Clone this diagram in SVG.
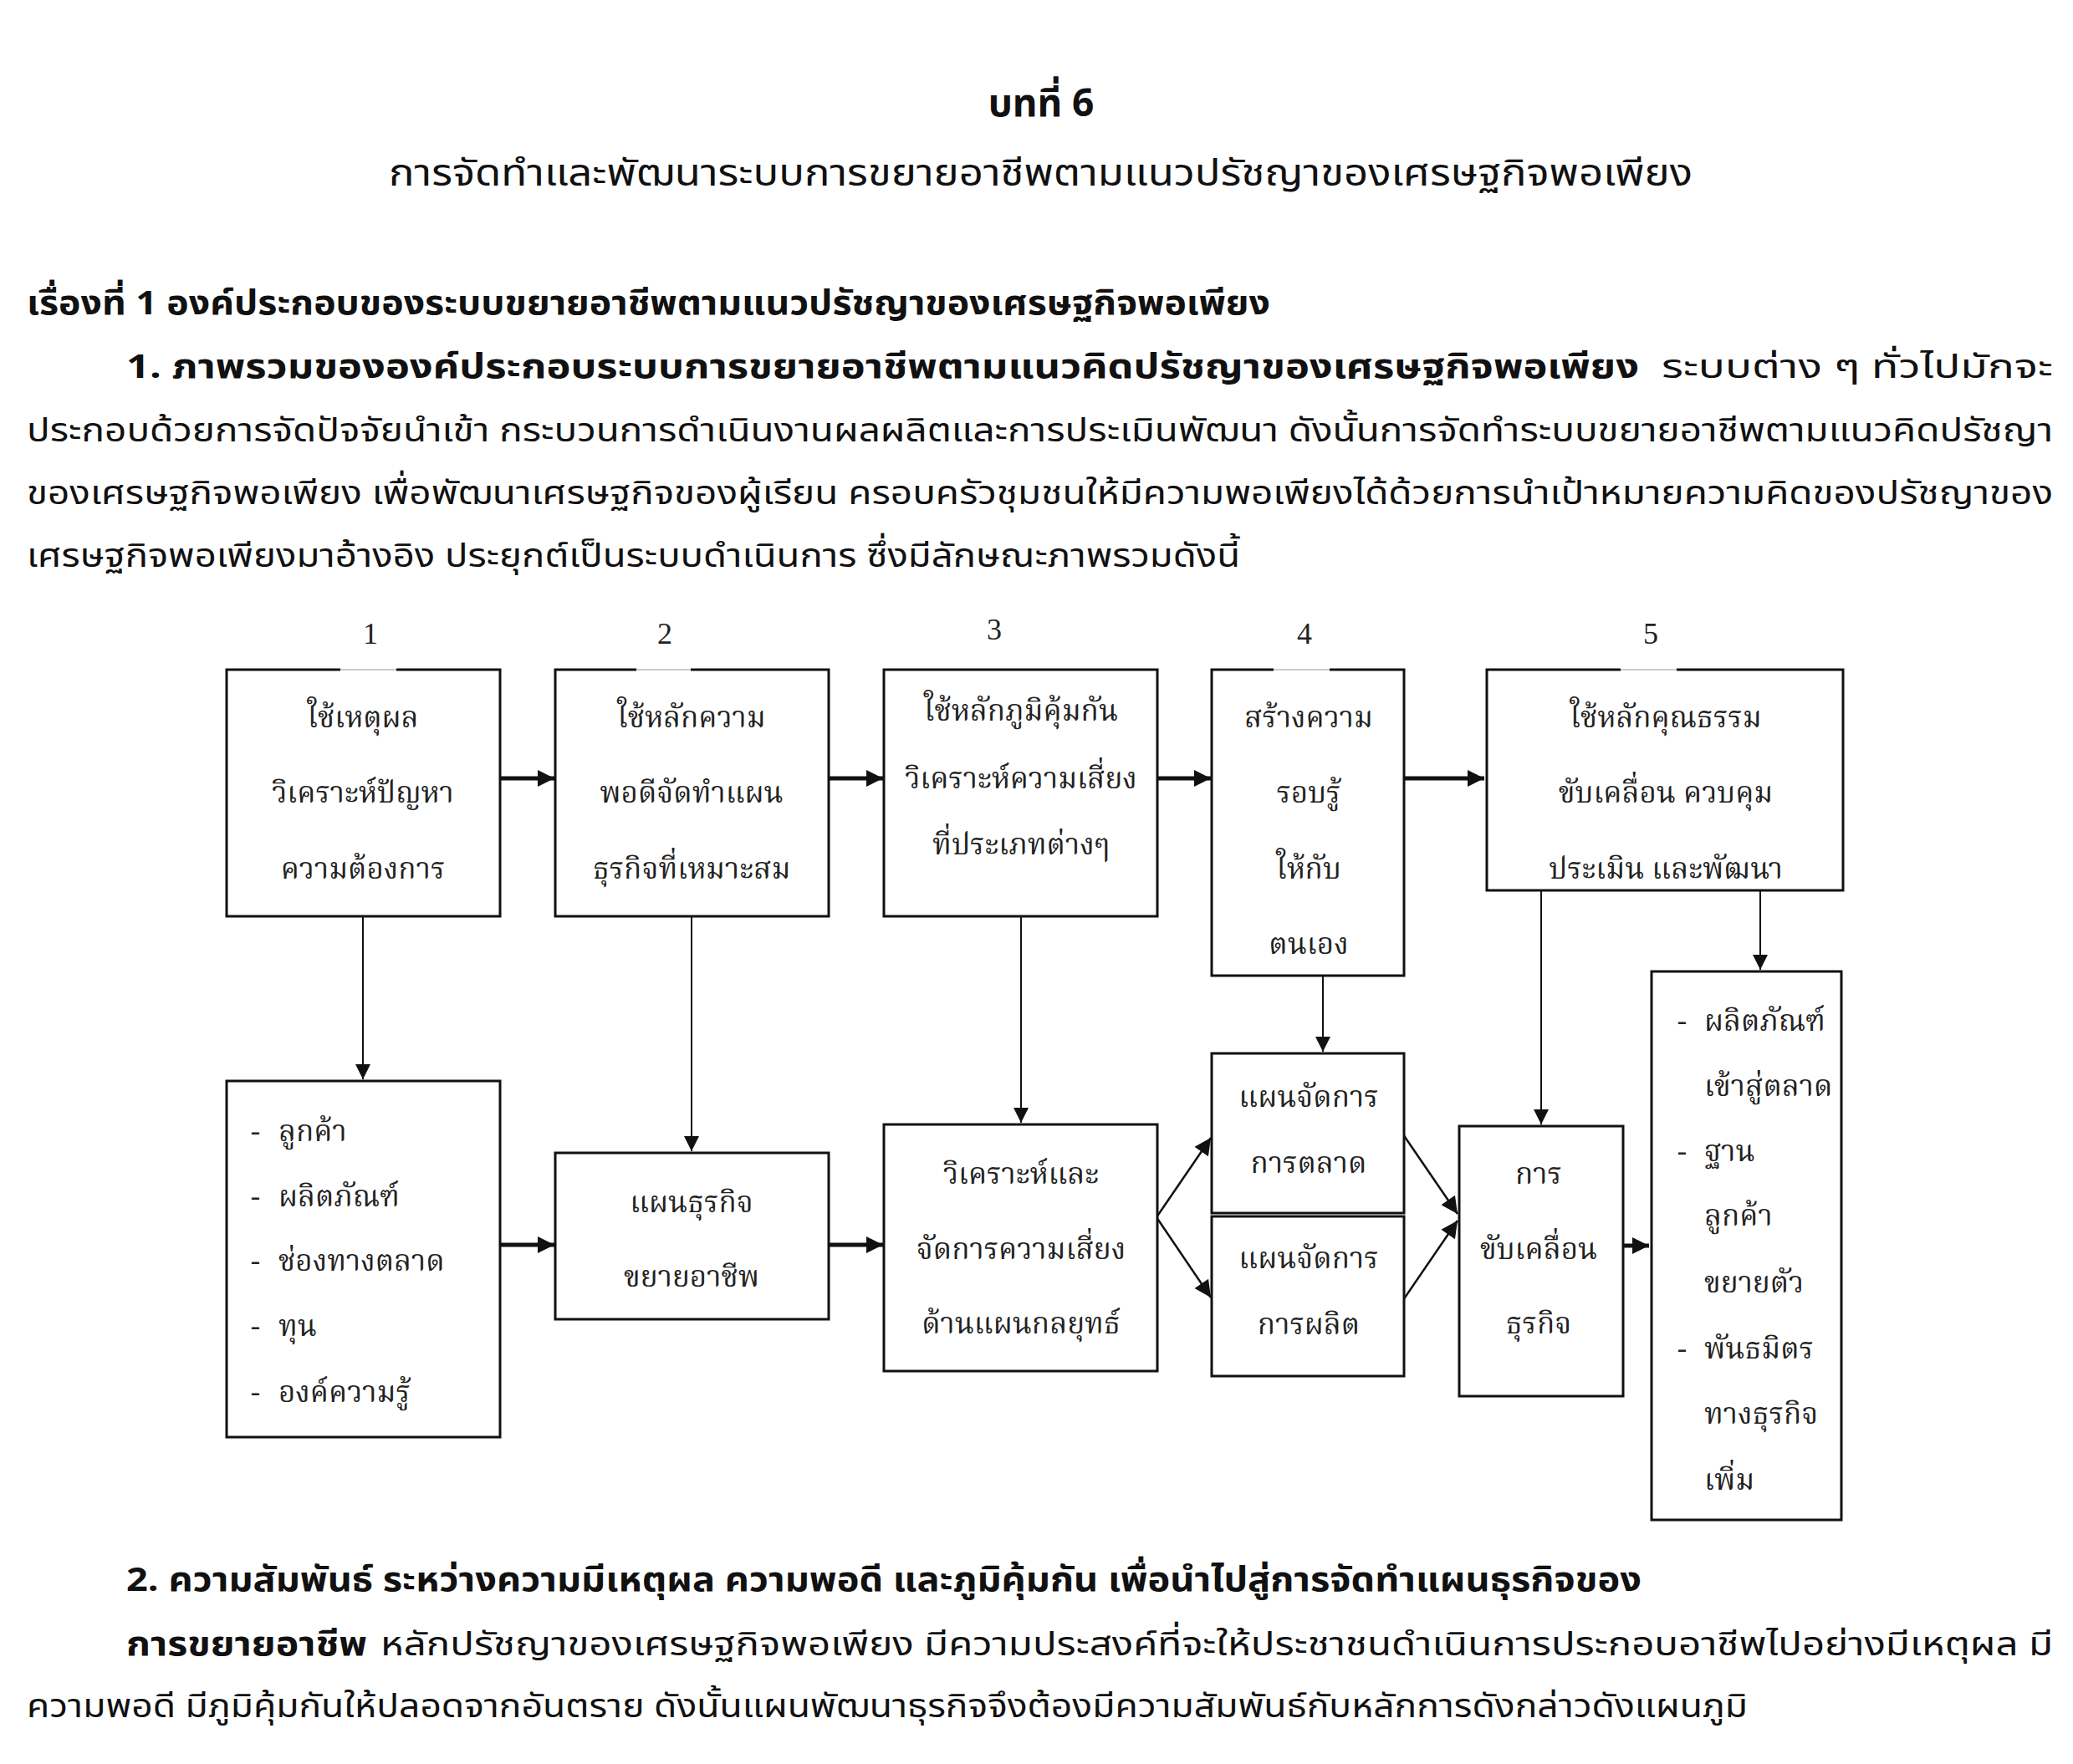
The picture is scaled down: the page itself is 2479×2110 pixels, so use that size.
<svg xmlns="http://www.w3.org/2000/svg" width="2479" height="2110" viewBox="0 0 2479 2110">
<defs>
<style>
.body{font-family:"Noto Sans Thai","Noto Sans","DejaVu Sans",sans-serif;font-size:40px;fill:#111}
.b{font-weight:bold}
.dg{font-family:"Noto Serif Thai","Liberation Serif",serif;font-size:35px;fill:#222}
.num{font-family:"Liberation Serif",serif;font-size:36px;fill:#222}
.box{fill:#fff;stroke:#111;stroke-width:3}
.thick{stroke:#111;stroke-width:5;fill:none}
.thin{stroke:#111;stroke-width:2;fill:none}
.diag{stroke:#111;stroke-width:2.5;fill:none}
.gap{stroke:#fff;stroke-width:5}
.gapl{stroke:#bbb;stroke-width:1.5}
</style>
<marker id="ah" viewBox="0 0 10 10" refX="10" refY="5" markerUnits="userSpaceOnUse" markerWidth="22" markerHeight="20" orient="auto">
<path d="M0,0 L10,5 L0,10 Z" fill="#111"/>
</marker>
<marker id="av" viewBox="0 0 10 10" refX="10" refY="5" markerUnits="userSpaceOnUse" markerWidth="24" markerHeight="18" orient="auto">
<path d="M0,0 L10,5 L0,10 Z" fill="#111"/>
</marker>
</defs>
<rect width="2479" height="2110" fill="#fff"/>

<g id="text-body" class="body">
<text x="1245" y="139" text-anchor="middle" class="b" style="font-size:46px">บทที่ 6</text>
<text x="465" y="222" textLength="1559" lengthAdjust="spacingAndGlyphs" style="font-size:44px">การจัดทำและพัฒนาระบบการขยายอาชีพตามแนวปรัชญาของเศรษฐกิจพอเพียง</text>
<text x="32" y="376" class="b" textLength="1487" lengthAdjust="spacingAndGlyphs">เรื่องที่ 1 องค์ประกอบของระบบขยายอาชีพตามแนวปรัชญาของเศรษฐกิจพอเพียง</text>
<text x="151" y="452" class="b" textLength="1809" lengthAdjust="spacingAndGlyphs">1. ภาพรวมขององค์ประกอบระบบการขยายอาชีพตามแนวคิดปรัชญาของเศรษฐกิจพอเพียง</text>
<text x="1987" y="452" textLength="468" lengthAdjust="spacingAndGlyphs">ระบบต่าง ๆ ทั่วไปมักจะ</text>
<text x="32" y="528" textLength="2423" lengthAdjust="spacingAndGlyphs">ประกอบด้วยการจัดปัจจัยนำเข้า กระบวนการดำเนินงานผลผลิตและการประเมินพัฒนา ดังนั้นการจัดทำระบบขยายอาชีพตามแนวคิดปรัชญา</text>
<text x="32" y="603" textLength="2423" lengthAdjust="spacingAndGlyphs">ของเศรษฐกิจพอเพียง เพื่อพัฒนาเศรษฐกิจของผู้เรียน ครอบครัวชุมชนให้มีความพอเพียงได้ด้วยการนำเป้าหมายความคิดของปรัชญาของ</text>
<text x="32" y="678" textLength="1451" lengthAdjust="spacingAndGlyphs">เศรษฐกิจพอเพียงมาอ้างอิง ประยุกต์เป็นระบบดำเนินการ ซึ่งมีลักษณะภาพรวมดังนี้</text>
<text x="151" y="1903" class="b" textLength="1812" lengthAdjust="spacingAndGlyphs">2. ความสัมพันธ์ ระหว่างความมีเหตุผล ความพอดี และภูมิคุ้มกัน เพื่อนำไปสู่การจัดทำแผนธุรกิจของ</text>
<text x="151" y="1980" class="b" textLength="288" lengthAdjust="spacingAndGlyphs">การขยายอาชีพ</text>
<text x="455" y="1980" textLength="2000" lengthAdjust="spacingAndGlyphs">หลักปรัชญาของเศรษฐกิจพอเพียง มีความประสงค์ที่จะให้ประชาชนดำเนินการประกอบอาชีพไปอย่างมีเหตุผล มี</text>
<text x="32" y="2054" textLength="2058" lengthAdjust="spacingAndGlyphs">ความพอดี มีภูมิคุ้มกันให้ปลอดจากอันตราย ดังนั้นแผนพัฒนาธุรกิจจึงต้องมีความสัมพันธ์กับหลักการดังกล่าวดังแผนภูมิ</text>
</g>

<g id="connectors">
<line class="thick" x1="598" y1="931" x2="663" y2="931" marker-end="url(#ah)"/>
<line class="thick" x1="990" y1="931" x2="1056" y2="931" marker-end="url(#ah)"/>
<line class="thick" x1="1383" y1="931" x2="1448" y2="931" marker-end="url(#ah)"/>
<line class="thick" x1="1678" y1="931" x2="1775" y2="931" marker-end="url(#ah)"/>
<line class="thin" x1="434" y1="1097" x2="434" y2="1291" marker-end="url(#av)"/>
<line class="thin" x1="827" y1="1097" x2="827" y2="1377" marker-end="url(#av)"/>
<line class="thin" x1="1221" y1="1097" x2="1221" y2="1343" marker-end="url(#av)"/>
<line class="thin" x1="1582" y1="1166" x2="1582" y2="1258" marker-end="url(#av)"/>
<line class="thin" x1="1843" y1="1064" x2="1843" y2="1345" marker-end="url(#av)"/>
<line class="thin" x1="2105" y1="1064" x2="2105" y2="1160" marker-end="url(#av)"/>
<line class="thick" x1="598" y1="1489" x2="663" y2="1489" marker-end="url(#ah)"/>
<line class="thick" x1="990" y1="1489" x2="1056" y2="1489" marker-end="url(#ah)"/>
<line class="thick" x1="1940" y1="1490" x2="1972" y2="1490" marker-end="url(#ah)"/>
<line class="diag" x1="1383" y1="1456" x2="1448" y2="1361" marker-end="url(#ah)"/>
<line class="diag" x1="1383" y1="1456" x2="1448" y2="1552" marker-end="url(#ah)"/>
<line class="diag" x1="1678" y1="1357" x2="1743" y2="1452" marker-end="url(#ah)"/>
<line class="diag" x1="1678" y1="1555" x2="1743" y2="1460" marker-end="url(#ah)"/>
</g>

<g id="n1">
<rect class="box" x="271" y="801" width="327" height="295"/>
<line class="gap" x1="407" y1="801" x2="474" y2="801"/><line class="gapl" x1="407" y1="801" x2="474" y2="801"/>
<text class="num" x="443" y="770" text-anchor="middle">1</text>
<g class="dg" text-anchor="middle"><text x="434" y="870">ใช้เหตุผล</text><text x="434" y="960">วิเคราะห์ปัญหา</text><text x="434" y="1051">ความต้องการ</text></g>
</g>
<g id="n2">
<rect class="box" x="664" y="801" width="327" height="295"/>
<line class="gap" x1="761" y1="801" x2="826" y2="801"/><line class="gapl" x1="761" y1="801" x2="826" y2="801"/>
<text class="num" x="795" y="770" text-anchor="middle">2</text>
<g class="dg" text-anchor="middle"><text x="827" y="870">ใช้หลักความ</text><text x="827" y="960">พอดีจัดทำแผน</text><text x="827" y="1051">ธุรกิจที่เหมาะสม</text></g>
</g>
<g id="n3">
<rect class="box" x="1057" y="801" width="327" height="295"/>
<text class="num" x="1189" y="765" text-anchor="middle">3</text>
<g class="dg" text-anchor="middle"><text x="1221" y="862">ใช้หลักภูมิคุ้มกัน</text><text x="1221" y="943">วิเคราะห์ความเสี่ยง</text><text x="1221" y="1022">ที่ประเภทต่างๆ</text></g>
</g>
<g id="n4">
<rect class="box" x="1449" y="801" width="230" height="366"/>
<line class="gap" x1="1523" y1="801" x2="1590" y2="801"/><line class="gapl" x1="1523" y1="801" x2="1590" y2="801"/>
<text class="num" x="1560" y="770" text-anchor="middle">4</text>
<g class="dg" text-anchor="middle"><text x="1565" y="870">สร้างความ</text><text x="1565" y="960">รอบรู้</text><text x="1565" y="1051">ให้กับ</text><text x="1565" y="1141">ตนเอง</text></g>
</g>
<g id="n5">
<rect class="box" x="1778" y="801" width="426" height="264"/>
<line class="gap" x1="1938" y1="801" x2="2005" y2="801"/><line class="gapl" x1="1938" y1="801" x2="2005" y2="801"/>
<text class="num" x="1974" y="770" text-anchor="middle">5</text>
<g class="dg" text-anchor="middle"><text x="1992" y="870">ใช้หลักคุณธรรม</text><text x="1992" y="960">ขับเคลื่อน ควบคุม</text><text x="1992" y="1051">ประเมิน และพัฒนา</text></g>
</g>
<g id="n6">
<rect class="box" x="271" y="1293" width="327" height="426"/>
<g class="dg"><text x="300" y="1365">-</text><text x="333" y="1365">ลูกค้า</text><text x="300" y="1443">-</text><text x="333" y="1443">ผลิตภัณฑ์</text><text x="300" y="1520">-</text><text x="333" y="1520">ช่องทางตลาด</text><text x="300" y="1598">-</text><text x="333" y="1598">ทุน</text><text x="300" y="1677">-</text><text x="333" y="1677">องค์ความรู้</text></g>
</g>
<g id="n7">
<rect class="box" x="664" y="1379" width="327" height="199"/>
<g class="dg" text-anchor="middle"><text x="827" y="1450">แผนธุรกิจ</text><text x="827" y="1539">ขยายอาชีพ</text></g>
</g>
<g id="n8">
<rect class="box" x="1057" y="1345" width="327" height="295"/>
<g class="dg" text-anchor="middle"><text x="1221" y="1416">วิเคราะห์และ</text><text x="1221" y="1506">จัดการความเสี่ยง</text><text x="1221" y="1595">ด้านแผนกลยุทธ์</text></g>
</g>
<g id="n9">
<rect class="box" x="1449" y="1260" width="230" height="191"/>
<g class="dg" text-anchor="middle"><text x="1565" y="1324">แผนจัดการ</text><text x="1565" y="1403">การตลาด</text></g>
</g>
<g id="n10">
<rect class="box" x="1449" y="1455" width="230" height="191"/>
<g class="dg" text-anchor="middle"><text x="1565" y="1517">แผนจัดการ</text><text x="1565" y="1596">การผลิต</text></g>
</g>
<g id="n11">
<rect class="box" x="1745" y="1347" width="196" height="323"/>
<g class="dg" text-anchor="middle"><text x="1840" y="1416">การ</text><text x="1840" y="1506">ขับเคลื่อน</text><text x="1840" y="1595">ธุรกิจ</text></g>
</g>
<g id="n12">
<rect class="box" x="1975" y="1162" width="227" height="656"/>
<g class="dg"><text x="2006" y="1233">-</text><text x="2038" y="1233">ผลิตภัณฑ์</text><text x="2038" y="1311">เข้าสู่ตลาด</text><text x="2006" y="1389">-</text><text x="2038" y="1389">ฐาน</text><text x="2038" y="1466">ลูกค้า</text><text x="2038" y="1546">ขยายตัว</text><text x="2006" y="1625">-</text><text x="2038" y="1625">พันธมิตร</text><text x="2038" y="1703">ทางธุรกิจ</text><text x="2038" y="1782">เพิ่ม</text></g>
</g>
</svg>
